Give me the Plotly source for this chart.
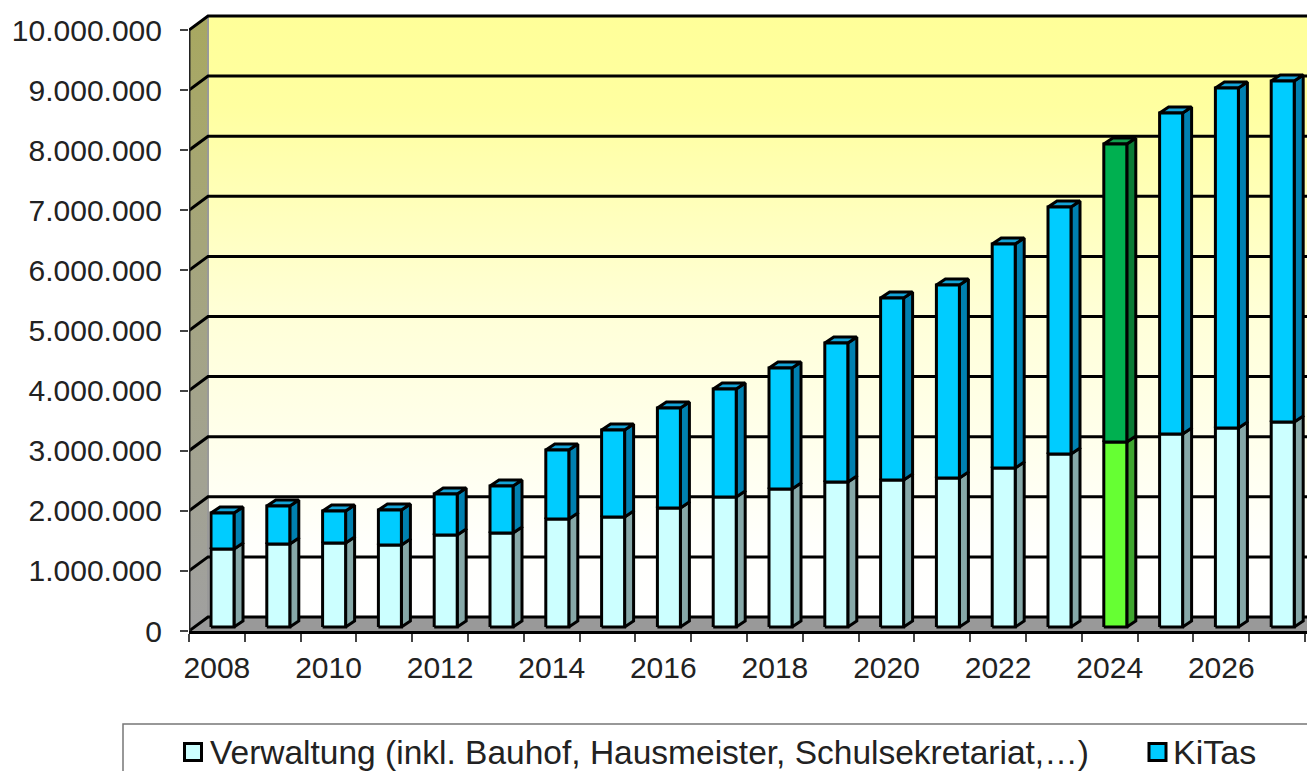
import plotly.graph_objects as go

years = list(range(2008, 2028))
verwaltung = [1298000,1381000,1398000,1364000,1531000,1564000,1797000,1830000,1980000,2163000,
              2296000,2413000,2446000,2479000,2646000,2879000,3078000,3211000,3311000,3411000]
kitas = [599000,632000,532000,583000,682000,782000,1148000,1448000,1664000,1797000,
         2013000,2312000,3028000,3212000,3727000,4109000,4959000,5341000,5657000,5674000]
highlight_year = 2024
y_ticks = [0,1000000,2000000,3000000,4000000,5000000,6000000,7000000,8000000,9000000,10000000]
y_labels = ["0","1.000.000","2.000.000","3.000.000","4.000.000","5.000.000","6.000.000",
            "7.000.000","8.000.000","9.000.000","10.000.000"]
x_ticks = list(range(2008, 2028, 2))
legend_names = ["Verwaltung (inkl. Bauhof, Hausmeister, Schulsekretariat,\u2026)", "KiTas"]

# scale: pixels per axis unit
W, H = 1307, 771
L, T, B = 189, 10, 140
PX = 55.8
PY = 60.1 / 1e6
x_lo = 2007.5
x_hi = x_lo + (W - L) / PX
y_hi = (H - B - T) / PY
dx = lambda p: p / PX
dy = lambda p: p / PY

WALL_X, WALL_Y = dx(19), dy(14)
BASE_X, BASE_Y = dx(22), dy(4)
BAR_W = dx(23)
SIDE_X, SIDE_Y = dx(9), dy(6)

fig = go.Figure()

def poly(polys, fill, name, line=True, width=3):
    xs, ys = [], []
    for p in polys:
        xs += [q[0] for q in p] + [p[0][0], None]
        ys += [q[1] for q in p] + [p[0][1], None]
    fig.add_trace(go.Scatter(x=xs, y=ys, mode="lines", fill="toself", fillcolor=fill, name=name,
                             line=dict(color="black" if line else fill, width=width if line else 0),
                             hoverinfo="skip", showlegend=False))

xr = x_hi + 1
# back wall
fig.add_trace(go.Scatter(
    x=[x_lo + WALL_X, xr, xr, x_lo + WALL_X, x_lo + WALL_X],
    y=[WALL_Y, WALL_Y, 1e7 + WALL_Y, 1e7 + WALL_Y, WALL_Y],
    mode="lines", fill="toself", line=dict(width=0), hoverinfo="skip", showlegend=False, name="wall",
    fillgradient=dict(type="vertical", start=WALL_Y, stop=1e7 + WALL_Y,
                      colorscale=[[0, "#FFFFFF"], [0.12, "#FFFFFC"], [0.5, "#FFFFD8"], [0.85, "#FFFFA0"], [1, "#FFFF99"]])))
# left wall
fig.add_trace(go.Scatter(
    x=[x_lo, x_lo + WALL_X, x_lo + WALL_X, x_lo, x_lo],
    y=[0, WALL_Y, 1e7 + WALL_Y, 1e7, 0],
    mode="lines", fill="toself", line=dict(width=0), hoverinfo="skip", showlegend=False, name="side wall",
    fillgradient=dict(type="vertical", start=0, stop=1e7 + WALL_Y,
                      colorscale=[[0, "#A0A0A0"], [0.5, "#A4A484"], [1, "#A8A860"]])))
# corner between the walls
fig.add_trace(go.Scatter(x=[x_lo + WALL_X, x_lo + WALL_X], y=[WALL_Y, 1e7 + WALL_Y], mode="lines",
                         line=dict(color="#999999", width=2), hoverinfo="skip", showlegend=False, name="corner"))
# floor
poly([[(x_lo, 0), (xr, 0), (xr, WALL_Y), (x_lo + WALL_X, WALL_Y)]], "#999999", "floor", line=False)

# grid lines
gx, gy = [], []
for v in y_ticks[1:]:
    gx += [x_lo, x_lo + WALL_X, xr, None]
    gy += [v, v + WALL_Y, v + WALL_Y, None]
gx += [x_lo, x_lo + WALL_X, xr, None]
gy += [0, WALL_Y, WALL_Y, None]
fig.add_trace(go.Scatter(x=gx, y=gy, mode="lines", line=dict(color="black", width=3),
                         hoverinfo="skip", showlegend=False, name="grid"))
fig.add_trace(go.Scatter(x=[x_lo, x_lo], y=[0, 1e7], mode="lines", line=dict(color="#222222", width=3),
                         hoverinfo="skip", showlegend=False, cliponaxis=False, name="edge"))

def faces(year, lo, hi):
    x0 = year - 0.5 + BASE_X
    x1 = x0 + BAR_W
    lo, hi = lo + BASE_Y, hi + BASE_Y
    front = [(x0, lo), (x1, lo), (x1, hi), (x0, hi)]
    side = [(x1, lo), (x1 + SIDE_X, lo + SIDE_Y), (x1 + SIDE_X, hi + SIDE_Y), (x1, hi)]
    top = [(x0, hi), (x1, hi), (x1 + SIDE_X, hi + SIDE_Y), (x0 + SIDE_X, hi + SIDE_Y)]
    return front, side, top

groups = {k: [] for k in ["vf", "vs", "kf", "ks", "kt", "gf", "gs", "df", "ds", "dt"]}
for yr, v, k in zip(years, verwaltung, kitas):
    vf, vs, _ = faces(yr, 0, v)
    kf, ks, kt = faces(yr, v, v + k)
    if yr == highlight_year:
        groups["gf"].append(vf); groups["gs"].append(vs)
        groups["df"].append(kf); groups["ds"].append(ks); groups["dt"].append(kt)
    else:
        groups["vf"].append(vf); groups["vs"].append(vs)
        groups["kf"].append(kf); groups["ks"].append(ks); groups["kt"].append(kt)

poly(groups["vs"], "#86A8A8", "Verwaltung side")
poly(groups["ks"], "#0080B0", "KiTas side")
poly(groups["kt"], "#14A4D8", "KiTas top")
poly(groups["gs"], "#3FA52F", "Verwaltung 2024 side")
poly(groups["ds"], "#0A7A35", "KiTas 2024 side")
poly(groups["dt"], "#12A04E", "KiTas 2024 top")
poly(groups["vf"], "#CCFFFF", legend_names[0])
poly(groups["kf"], "#00CCFF", legend_names[1])
poly(groups["gf"], "#66FF33", "Verwaltung 2024")
poly(groups["df"], "#00B050", "KiTas 2024")

def pxx(p): return (p - L) / (W - L)
def pxy(p): return (H - B - p) / (H - B - T)

shapes = [
    dict(type="rect", xref="paper", yref="paper", x0=pxx(123), x1=pxx(1400), y0=pxy(724), y1=pxy(800),
         line=dict(color="#777777", width=1.5), fillcolor="white"),
    dict(type="rect", xref="paper", yref="paper", x0=pxx(184.5), x1=pxx(201.5), y0=pxy(743.5), y1=pxy(760.5),
         line=dict(color="black", width=3), fillcolor="#CCFFFF"),
    dict(type="rect", xref="paper", yref="paper", x0=pxx(1149), x1=pxx(1166), y0=pxy(743.5), y1=pxy(760.5),
         line=dict(color="black", width=3), fillcolor="#00CCFF"),
]
font = dict(family="Liberation Sans, Arial, sans-serif", size=30, color="#222222")
annotations = [
    dict(text=legend_names[0], xref="paper", yref="paper", x=pxx(208), y=pxy(752), xanchor="left", yanchor="middle",
         showarrow=False, font=dict(family=font["family"], size=33.5, color="#222222")),
    dict(text=legend_names[1], xref="paper", yref="paper", x=pxx(1171), y=pxy(752), xanchor="left", yanchor="middle",
         showarrow=False, font=dict(family=font["family"], size=34, color="#222222")),
]

fig.update_layout(
    width=W, height=H, margin=dict(l=L, r=0, t=T, b=B, pad=0, autoexpand=False),
    paper_bgcolor="white", plot_bgcolor="white", showlegend=False,
    shapes=shapes, annotations=annotations, font=font,
    xaxis=dict(range=[x_lo, x_hi], tickmode="array", tickvals=x_ticks, ticktext=[str(t) for t in x_ticks],
               ticks="", showgrid=False, zeroline=False, showline=True, linecolor="black", linewidth=3,
               ticklabelstandoff=8, tickfont=font,
               minor=dict(tick0=x_lo, dtick=1, ticks="outside", ticklen=8, tickwidth=1.5, tickcolor="#444444", showgrid=False)),
    yaxis=dict(range=[0, y_hi], tickmode="array", tickvals=y_ticks, ticktext=y_labels,
               ticks="outside", ticklen=8, tickwidth=1.5, tickcolor="#444444", showgrid=False, zeroline=False,
               showline=False, ticklabelstandoff=12, tickfont=font),
)

fig.write_html("out.html", config={"displayModeBar": False},
               post_script="document.body.style.margin='0';document.body.style.overflow='hidden';")
